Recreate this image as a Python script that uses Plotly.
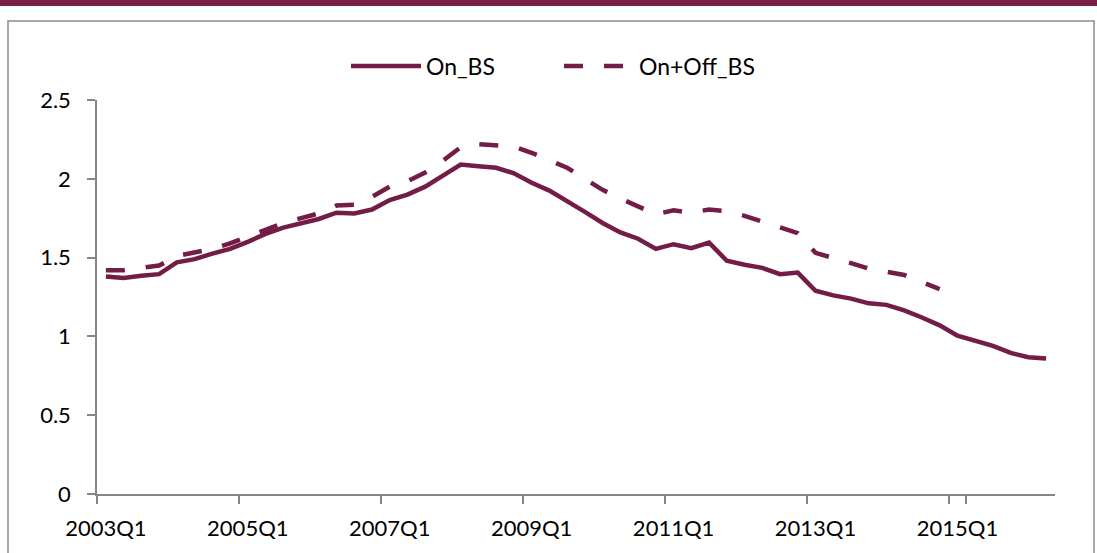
import plotly.graph_objects as go

quarters = [f"{y}Q{q}" for y in range(2003, 2017) for q in range(1, 5)][:54]

on_bs = [1.38, 1.37, 1.385, 1.395, 1.47, 1.49, 1.525, 1.555, 1.60, 1.65,
         1.69, 1.715, 1.745, 1.785, 1.78, 1.805, 1.865, 1.90, 1.95, 2.02,
         2.09, 2.08, 2.07, 2.035, 1.975, 1.925, 1.86, 1.79, 1.72, 1.66,
         1.62, 1.555, 1.585, 1.56, 1.595, 1.48, 1.455, 1.435, 1.395, 1.405,
         1.29, 1.26, 1.24, 1.21, 1.20, 1.165, 1.12, 1.07, 1.005, 0.97,
         0.94, 0.895, 0.868, 0.86]

on_off_bs = [1.42, 1.42, 1.435, 1.45, 1.51, 1.53, 1.555, 1.59, 1.635, 1.68,
             1.72, 1.75, 1.78, 1.83, 1.835, 1.885, 1.95, 1.985, 2.04, 2.115,
             2.20, 2.22, 2.21, 2.205, 2.165, 2.12, 2.07, 2.00, 1.93, 1.875,
             1.825, 1.775, 1.80, 1.785, 1.805, 1.795, 1.765, 1.73, 1.69, 1.655,
             1.53, 1.50, 1.465, 1.43, 1.41, 1.39, 1.345, 1.30]

tick_labels = ["2003Q1", "2005Q1", "2007Q1", "2009Q1", "2011Q1", "2013Q1", "2015Q1"]
y_ticks = [0, 0.5, 1, 1.5, 2, 2.5]

MAROON = "#731C47"
AXIS = "#868686"
FONT = "Lato"

fig = go.Figure()
fig.add_trace(go.Scatter(x=quarters, y=on_bs, mode="lines", name="On_BS",
                         line=dict(color=MAROON, width=4.5)))
fig.add_trace(go.Scatter(x=quarters[:len(on_off_bs)], y=on_off_bs, mode="lines",
                         name="On+Off_BS",
                         line=dict(color=MAROON, width=4.5, dash="19px,21px")))

W, H = 1097, 553
L, R, T, B = 97, 42, 100, 59
pw, ph = W - L - R, H - T - B

def px(x):
    return (x - L) / pw

def py(y):
    return (H - B - y) / ph

fig.update_layout(
    width=W, height=H,
    margin=dict(l=L, r=R, t=T, b=B, pad=0, autoexpand=False),
    paper_bgcolor="white", plot_bgcolor="white",
    font=dict(family=FONT, size=22, color="black"),
    showlegend=True,
    legend=dict(orientation="h", x=px(346), xanchor="left", y=py(66), yanchor="middle",
                font=dict(family=FONT, size=23, color="black"),
                itemwidth=70, entrywidth=128, bgcolor="rgba(0,0,0,0)"),
    xaxis=dict(type="category", categoryorder="array", categoryarray=quarters,
               range=[-0.5, 53.5], automargin=False, tickangle=0,
               tickmode="array", tickvals=tick_labels, ticktext=tick_labels,
               tickson="boundaries", ticks="outside", ticklen=8, tickwidth=1.5,
               tickcolor=AXIS, showline=True, linecolor=AXIS, linewidth=1.5,
               showgrid=False, zeroline=False, ticklabelstandoff=14,
               tickfont=dict(family=FONT, size=22, color="black")),
    yaxis=dict(range=[0, 2.5], tickmode="array", tickvals=y_ticks, automargin=False,
               ticktext=[f"{v:g}" for v in y_ticks],
               ticks="outside", ticklen=8, tickwidth=1.5, tickcolor=AXIS,
               showline=True, linecolor=AXIS, linewidth=1.5,
               showgrid=False, zeroline=False, ticklabelstandoff=12,
               tickfont=dict(family=FONT, size=22, color="black")),
    shapes=[
        dict(type="rect", xref="paper", yref="paper",
             x0=px(-5), x1=px(W + 5), y0=py(6), y1=py(-5),
             fillcolor="#7A1E4A", line=dict(width=0), layer="above"),
        dict(type="rect", xref="paper", yref="paper",
             x0=px(8), x1=px(1094), y0=py(H + 10), y1=py(21),
             fillcolor="rgba(0,0,0,0)", line=dict(color="#8C8C8C", width=1.5),
             layer="below"),
    ],
)

fig.write_html("out.html", config={"displayModeBar": False},
               post_script="document.body.style.margin='0px';document.body.style.overflow='hidden';")
